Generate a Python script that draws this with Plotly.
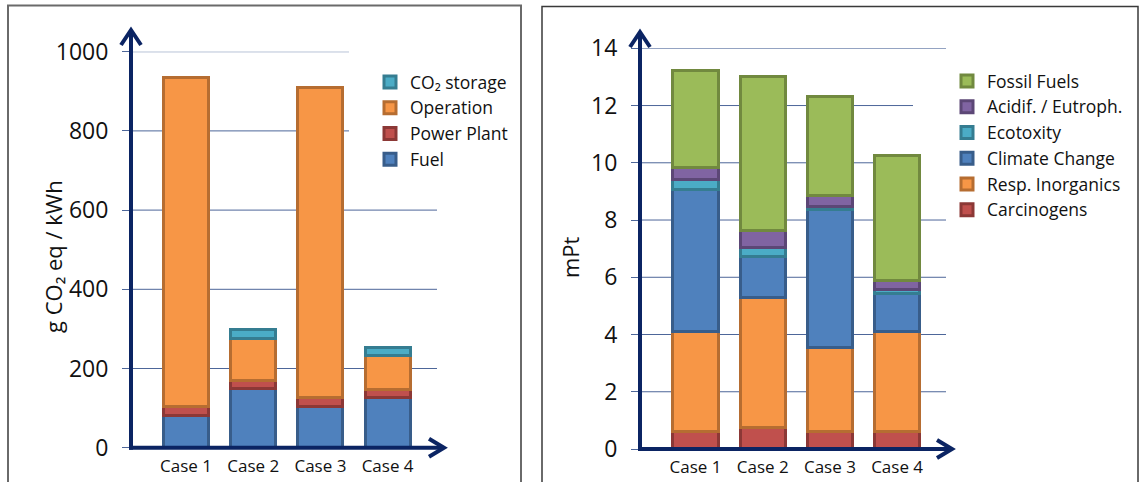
import plotly.graph_objects as go

W, H = 1139, 482


def px(x):
    return x / W


def py(y):
    return 1 - y / H


cases = ["Case 1", "Case 2", "Case 3", "Case 4"]

# Left chart: g CO2 eq / kWh (0 = no contribution)
fuel = [82, 150, 105, 127]
power_plant = [22, 19, 22, 20]
operation = [830, 107, 782, 86]
co2_storage = [0, 23, 0, 20]
left_ticks = [0, 200, 400, 600, 800, 1000]

# Right chart: mPt
carcinogens = [0.60, 0.76, 0.60, 0.60]
resp_inorganics = [3.52, 4.53, 2.94, 3.52]
climate_change = [4.96, 1.45, 4.83, 1.32]
ecotoxicity = [0.32, 0.29, 0.10, 0.14]
acidif_eutroph = [0.43, 0.60, 0.37, 0.29]
fossil_fuels = [3.38, 5.40, 3.47, 4.38]
right_ticks = [0, 2, 4, 6, 8, 10, 12, 14]

FONT = "Open Sans"
NAVY = "#0b2463"
GRID = "#4d6699"

BLUE = ("#4F81BD", "#385D8A")
RED = ("#C0504D", "#8C3836")
ORANGE = ("#F79646", "#B66D31")
AQUA = ("#4BACC6", "#357D91")
PURPLE = ("#8064A2", "#5C4776")
GREEN = ("#9BBB59", "#71893F")

fig = go.Figure()


def add_bar(name, vals, col, xa, ya, leg):
    fig.add_trace(go.Bar(
        x=cases, y=[v if v else None for v in vals], name=name,
        xaxis=xa, yaxis=ya, legend=leg,
        marker=dict(color=col[0], line=dict(color=col[1], width=3)),
        hoverinfo="x+y+name",
    ))


add_bar("Fuel", fuel, BLUE, "x", "y", "legend")
add_bar("Power Plant", power_plant, RED, "x", "y", "legend")
add_bar("Operation", operation, ORANGE, "x", "y", "legend")
add_bar("CO₂ storage", co2_storage, AQUA, "x", "y", "legend")

add_bar("Carcinogens", carcinogens, RED, "x2", "y2", "legend2")
add_bar("Resp. Inorganics", resp_inorganics, ORANGE, "x2", "y2", "legend2")
add_bar("Climate Change", climate_change, BLUE, "x2", "y2", "legend2")
add_bar("Ecotoxity", ecotoxicity, AQUA, "x2", "y2", "legend2")
add_bar("Acidif. / Eutroph.", acidif_eutroph, PURPLE, "x2", "y2", "legend2")
add_bar("Fossil Fuels", fossil_fuels, GREEN, "x2", "y2", "legend2")

# pixel geometry of the two plot areas
L_AX, L_END, L_Y0, L_Y1 = 131, 437, 447.7, 51.7
R_AX, R_END, R_Y0, R_Y1 = 640, 946, 449.0, 48.3
L_C0, R_C0, STEP = 186.0, 695.5, 67.2

common_x = dict(type="category", showgrid=False, zeroline=False, showline=False,
                ticks="", tickfont=dict(family=FONT, size=17, color="#111"),
                ticklabelstandoff=6, fixedrange=True, automargin=False)
common_y = dict(showgrid=False, zeroline=False, showline=False,
                ticks="outside", ticklen=8, tickcolor=GRID, tickwidth=1,
                tickfont=dict(family=FONT, size=23, color="#111"),
                ticklabelstandoff=9, fixedrange=True, automargin=False)

fig.update_layout(
    width=W, height=H, autosize=False,
    margin=dict(l=0, r=0, t=0, b=0, pad=0, autoexpand=False),
    paper_bgcolor="white", plot_bgcolor="rgba(0,0,0,0)",
    barmode="stack", bargap=0.33,
    font=dict(family=FONT, color="#111"),
    xaxis=dict(domain=[px(L_AX), px(L_END)], anchor="y",
               range=[(L_AX - L_C0) / STEP, (L_END - L_C0) / STEP], **common_x),
    yaxis=dict(domain=[py(L_Y0), py(L_Y1)], anchor="x", range=[0, 1000],
               tickvals=left_ticks, **common_y),
    xaxis2=dict(domain=[px(R_AX), px(R_END)], anchor="y2",
                range=[(R_AX - R_C0) / STEP, (R_END - R_C0) / STEP], **common_x),
    yaxis2=dict(domain=[py(R_Y0), py(R_Y1)], anchor="x2", range=[0, 14],
                tickvals=right_ticks, **common_y),
    legend=dict(x=px(370), y=py(64), xanchor="left", yanchor="top",
                traceorder="reversed", bgcolor="rgba(0,0,0,0)",
                font=dict(family=FONT, size=17.5, color="#111")),
    legend2=dict(x=px(947), y=py(63), xanchor="left", yanchor="top",
                 traceorder="reversed", bgcolor="rgba(0,0,0,0)",
                 font=dict(family=FONT, size=17.5, color="#111")),
    showlegend=True,
)

shapes = []
# panel borders
shapes.append(dict(type="rect", xref="paper", yref="paper",
                   x0=px(8), x1=px(521), y0=py(5.5), y1=py(495),
                   line=dict(color="#6a6a6a", width=2), layer="below"))
shapes.append(dict(type="rect", xref="paper", yref="paper",
                   x0=px(542), x1=px(1138), y0=py(6.5), y1=py(495),
                   line=dict(color="#3a3a3a", width=1.5), layer="below"))

# gridlines (end where the legend begins)
left_ends = {1000: 349, 800: 349}
for v in left_ticks[1:]:
    shapes.append(dict(type="line", xref="paper", yref="y",
                       x0=px(L_AX), x1=px(left_ends.get(v, L_END)), y0=v, y1=v,
                       line=dict(color=GRID, width=1), layer="below"))
right_ends = {12: 913, 10: 913}
for v in right_ticks[1:]:
    shapes.append(dict(type="line", xref="paper", yref="y2",
                       x0=px(R_AX), x1=px(right_ends.get(v, R_END)), y0=v, y1=v,
                       line=dict(color=GRID, width=1), layer="below"))


def arrow_axes(ax, y0, top, tip_x):
    out = []
    lw = 4
    out.append(dict(type="line", xref="paper", yref="paper",
                    x0=px(ax), x1=px(ax), y0=py(y0 + 2), y1=py(top + 2),
                    line=dict(color=NAVY, width=lw), layer="above"))
    out.append(dict(type="path", xref="paper", yref="paper",
                    path=f"M{px(ax - 10)},{py(top + 16)} L{px(ax)},{py(top + 1)} L{px(ax + 10)},{py(top + 16)}",
                    line=dict(color=NAVY, width=lw), layer="above"))
    out.append(dict(type="line", xref="paper", yref="paper",
                    x0=px(ax - 2), x1=px(tip_x - 2), y0=py(y0), y1=py(y0),
                    line=dict(color=NAVY, width=lw), layer="above"))
    out.append(dict(type="path", xref="paper", yref="paper",
                    path=f"M{px(tip_x - 16)},{py(y0 - 9)} L{px(tip_x - 1)},{py(y0)} L{px(tip_x - 16)},{py(y0 + 9)}",
                    line=dict(color=NAVY, width=lw), layer="above"))
    return out


shapes += arrow_axes(L_AX, L_Y0, 29, 445)
shapes += arrow_axes(R_AX, R_Y0, 31, 953)
fig.update_layout(shapes=shapes)

fig.add_annotation(text="g CO₂ eq / kWh", textangle=-90, xref="paper", yref="paper",
                   x=px(36), y=py(257), showarrow=False,
                   font=dict(family=FONT, size=22, color="#111"))
fig.add_annotation(text="mPt", textangle=-90, xref="paper", yref="paper",
                   x=px(570), y=py(257), showarrow=False,
                   font=dict(family=FONT, size=22, color="#111"))

post = ("document.body.style.margin='0';document.body.style.padding='0';"
        "document.body.style.overflow='hidden';"
        "var gd=document.getElementById('{plot_id}');"
        "Plotly.relayout(gd,{width:%d,height:%d,'margin.t':0,'margin.b':0,"
        "'margin.l':0,'margin.r':0,'margin.autoexpand':false});" % (W, H))

fig.write_html("out.html", config={"responsive": False, "displayModeBar": False},
               post_script=post)
